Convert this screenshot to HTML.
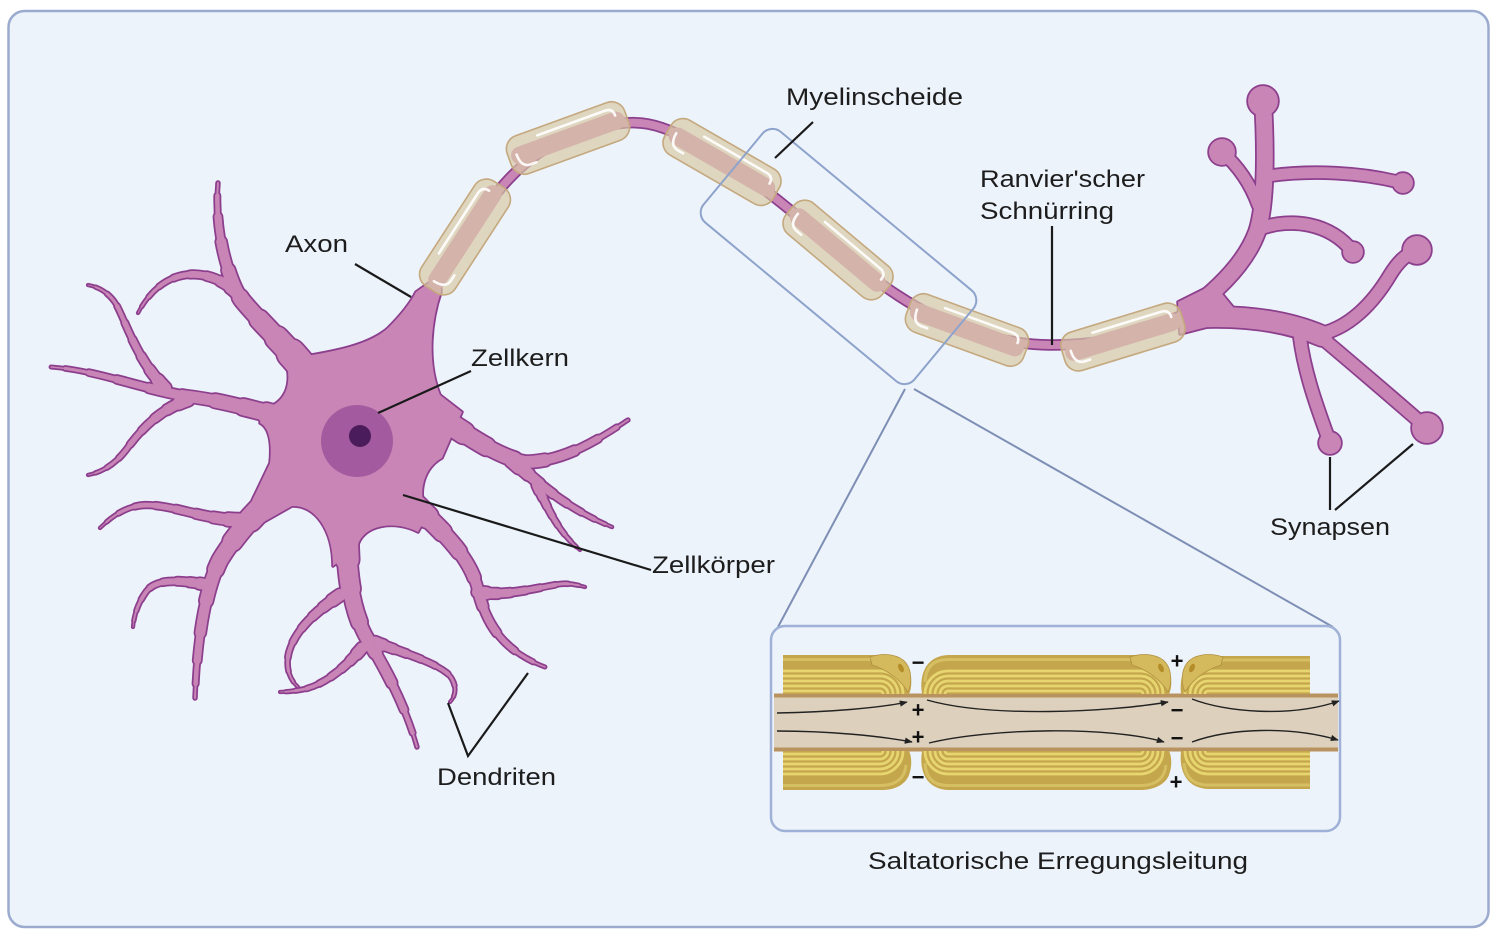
<!DOCTYPE html>
<html><head><meta charset="utf-8">
<style>
html,body{margin:0;padding:0;background:#fff;}
svg{display:block}
text{font-family:"Liberation Sans",Arial,sans-serif;font-size:24px;fill:#1d1d1d}
.br{fill:none;stroke-linecap:round;stroke-linejoin:round}
.s1{stroke-dasharray:8 1000;stroke-width:calc(var(--w)*1px + var(--o))}
.s2{stroke-dasharray:18 1000;stroke-width:calc(var(--w)*0.82px + var(--o))}
.s3{stroke-dasharray:30 1000;stroke-width:calc(var(--w)*0.68px + var(--o))}
.s4{stroke-dasharray:44 1000;stroke-width:calc(var(--w)*0.56px + var(--o))}
.s5{stroke-dasharray:58 1000;stroke-width:calc(var(--w)*0.46px + var(--o))}
.s6{stroke-dasharray:72 1000;stroke-width:calc(var(--w)*0.36px + var(--o))}
.s7{stroke-dasharray:84 1000;stroke-width:calc(var(--w)*0.26px + var(--o))}
.s8{stroke-dasharray:94 1000;stroke-width:calc(var(--w)*0.16px + var(--o))}
.s9{stroke-dasharray:100 1000;stroke-width:calc(var(--w)*0.07px + var(--o))}
.fx{stroke-width:calc(var(--w)*1px + var(--o))}
.bulb,.fl{fill:currentColor;stroke:currentColor;stroke-width:var(--o);stroke-linejoin:round}
.chg{font-weight:bold;font-size:22px;fill:#111;text-anchor:middle}
</style></head><body>
<svg width="1500" height="940" viewBox="0 0 1500 940" xmlns="http://www.w3.org/2000/svg">
<defs>
<marker id="ah" viewBox="0 0 10 8" refX="9" refY="4" markerWidth="8" markerHeight="6.4" markerUnits="userSpaceOnUse" orient="auto"><path d="M0,0 L10,4 L0,8 z" fill="#222"/></marker>
<path id="p1" class="br" pathLength="100" d="M302,366 C285,345 258,320 242,300 C228,280 214,230 218,183"/>
<path id="p2" class="br" pathLength="100" d="M238,294 C212,268 165,262 138,313"/>
<path id="p3" class="br" pathLength="100" d="M285,418 C255,410 220,400 185,396 C140,388 95,370 51,367"/>
<path id="p4" class="br" pathLength="100" d="M165,388 C137,360 126,322 116,304 C109,293 99,287 88,285"/>
<path id="p5" class="br" pathLength="100" d="M188,400 C158,410 139,432 126,450 C116,463 103,472 88,475"/>
<path id="p6" class="br" pathLength="100" d="M280,490 C258,510 235,535 220,560 C205,590 197,640 195,698"/>
<path id="p7" class="br" pathLength="100" d="M240,520 C205,520 175,505 145,505 C125,506 110,518 100,528"/>
<path id="p8" class="br" pathLength="100" d="M208,585 C180,580 156,578 146,592 C138,603 134,615 133,627"/>
<path id="p9" class="br" pathLength="100" d="M347,515 C345,565 350,610 368,640 C385,668 405,705 417,747"/>
<path id="p10" class="br" pathLength="100" d="M340,595 C318,610 296,628 289,652 C285,668 290,680 298,687"/>
<path id="p11" class="br" pathLength="100" d="M362,648 C345,668 325,684 305,689 C295,691 287,692 280,692"/>
<path id="p12" class="br" pathLength="100" d="M375,642 C400,652 430,660 447,673 C457,682 457,695 450,702"/>
<path id="p13" class="br" pathLength="100" d="M415,505 C440,530 470,555 478,590 C485,620 500,650 545,667"/>
<path id="p14" class="br" pathLength="100" d="M478,592 C505,597 535,588 560,584 C570,583 578,585 585,587"/>
<path id="p15" class="br" pathLength="100" d="M430,412 C455,425 490,455 525,462 C565,462 600,438 628,420"/>
<path id="p16" class="br" pathLength="100" d="M512,460 C535,480 565,508 612,527"/>
<path id="p17" class="br" pathLength="100" d="M537,485 C547,507 558,532 580,550"/>
<g id="ALL">
 <g style="--w:28"><use href="#p1" class="s1"/><use href="#p1" class="s2"/><use href="#p1" class="s3"/><use href="#p1" class="s4"/><use href="#p1" class="s5"/><use href="#p1" class="s6"/><use href="#p1" class="s7"/><use href="#p1" class="s8"/><use href="#p1" class="s9"/></g>
 <g style="--w:12"><use href="#p2" class="s1"/><use href="#p2" class="s2"/><use href="#p2" class="s3"/><use href="#p2" class="s4"/><use href="#p2" class="s5"/><use href="#p2" class="s6"/><use href="#p2" class="s7"/><use href="#p2" class="s8"/><use href="#p2" class="s9"/></g>
 <g style="--w:20"><use href="#p3" class="s1"/><use href="#p3" class="s2"/><use href="#p3" class="s3"/><use href="#p3" class="s4"/><use href="#p3" class="s5"/><use href="#p3" class="s6"/><use href="#p3" class="s7"/><use href="#p3" class="s8"/><use href="#p3" class="s9"/></g>
 <g style="--w:12"><use href="#p4" class="s1"/><use href="#p4" class="s2"/><use href="#p4" class="s3"/><use href="#p4" class="s4"/><use href="#p4" class="s5"/><use href="#p4" class="s6"/><use href="#p4" class="s7"/><use href="#p4" class="s8"/><use href="#p4" class="s9"/></g>
 <g style="--w:12"><use href="#p5" class="s1"/><use href="#p5" class="s2"/><use href="#p5" class="s3"/><use href="#p5" class="s4"/><use href="#p5" class="s5"/><use href="#p5" class="s6"/><use href="#p5" class="s7"/><use href="#p5" class="s8"/><use href="#p5" class="s9"/></g>
 <g style="--w:28"><use href="#p6" class="s1"/><use href="#p6" class="s2"/><use href="#p6" class="s3"/><use href="#p6" class="s4"/><use href="#p6" class="s5"/><use href="#p6" class="s6"/><use href="#p6" class="s7"/><use href="#p6" class="s8"/><use href="#p6" class="s9"/></g>
 <g style="--w:13"><use href="#p7" class="s1"/><use href="#p7" class="s2"/><use href="#p7" class="s3"/><use href="#p7" class="s4"/><use href="#p7" class="s5"/><use href="#p7" class="s6"/><use href="#p7" class="s7"/><use href="#p7" class="s8"/><use href="#p7" class="s9"/></g>
 <g style="--w:11"><use href="#p8" class="s1"/><use href="#p8" class="s2"/><use href="#p8" class="s3"/><use href="#p8" class="s4"/><use href="#p8" class="s5"/><use href="#p8" class="s6"/><use href="#p8" class="s7"/><use href="#p8" class="s8"/><use href="#p8" class="s9"/></g>
 <g style="--w:28"><use href="#p9" class="s1"/><use href="#p9" class="s2"/><use href="#p9" class="s3"/><use href="#p9" class="s4"/><use href="#p9" class="s5"/><use href="#p9" class="s6"/><use href="#p9" class="s7"/><use href="#p9" class="s8"/><use href="#p9" class="s9"/></g>
 <g style="--w:12"><use href="#p10" class="s1"/><use href="#p10" class="s2"/><use href="#p10" class="s3"/><use href="#p10" class="s4"/><use href="#p10" class="s5"/><use href="#p10" class="s6"/><use href="#p10" class="s7"/><use href="#p10" class="s8"/><use href="#p10" class="s9"/></g>
 <g style="--w:11"><use href="#p11" class="s1"/><use href="#p11" class="s2"/><use href="#p11" class="s3"/><use href="#p11" class="s4"/><use href="#p11" class="s5"/><use href="#p11" class="s6"/><use href="#p11" class="s7"/><use href="#p11" class="s8"/><use href="#p11" class="s9"/></g>
 <g style="--w:11"><use href="#p12" class="s1"/><use href="#p12" class="s2"/><use href="#p12" class="s3"/><use href="#p12" class="s4"/><use href="#p12" class="s5"/><use href="#p12" class="s6"/><use href="#p12" class="s7"/><use href="#p12" class="s8"/><use href="#p12" class="s9"/></g>
 <g style="--w:22"><use href="#p13" class="s1"/><use href="#p13" class="s2"/><use href="#p13" class="s3"/><use href="#p13" class="s4"/><use href="#p13" class="s5"/><use href="#p13" class="s6"/><use href="#p13" class="s7"/><use href="#p13" class="s8"/><use href="#p13" class="s9"/></g>
 <g style="--w:12"><use href="#p14" class="s1"/><use href="#p14" class="s2"/><use href="#p14" class="s3"/><use href="#p14" class="s4"/><use href="#p14" class="s5"/><use href="#p14" class="s6"/><use href="#p14" class="s7"/><use href="#p14" class="s8"/><use href="#p14" class="s9"/></g>
 <g style="--w:26"><use href="#p15" class="s1"/><use href="#p15" class="s2"/><use href="#p15" class="s3"/><use href="#p15" class="s4"/><use href="#p15" class="s5"/><use href="#p15" class="s6"/><use href="#p15" class="s7"/><use href="#p15" class="s8"/><use href="#p15" class="s9"/></g>
 <g style="--w:15"><use href="#p16" class="s1"/><use href="#p16" class="s2"/><use href="#p16" class="s3"/><use href="#p16" class="s4"/><use href="#p16" class="s5"/><use href="#p16" class="s6"/><use href="#p16" class="s7"/><use href="#p16" class="s8"/><use href="#p16" class="s9"/></g>
 <g style="--w:10"><use href="#p17" class="s1"/><use href="#p17" class="s2"/><use href="#p17" class="s3"/><use href="#p17" class="s4"/><use href="#p17" class="s5"/><use href="#p17" class="s6"/><use href="#p17" class="s7"/><use href="#p17" class="s8"/><use href="#p17" class="s9"/></g>
 <!-- axon -->
 <path class="br fx" style="--w:8" d="M428,300 C440,279 452,257 465,237 C491,197 523,154 568,138 C593,129 621,119 648,124 C675,129 699,146 722,160 C763,186 800,218 838,250 C876,282 919,314 967,330 C994,339 1022,345 1050,345 C1074,345 1100,343 1123,337 C1146,331 1167,320 1192,312"/>
 <!-- terminal -->
 <path class="fl" d="M1178,302 L1214,284 L1242,318 L1180,334 Z"/>
 <path class="br fx" style="--w:16" d="M1188,312 C1215,292 1245,265 1257,232 C1266,205 1266,150 1263,101"/>
 <path class="br fx" style="--w:11" d="M1258,205 C1250,183 1238,166 1222,152"/>
 <path class="br fx" style="--w:11" d="M1268,176 C1310,170 1360,172 1403,183"/>
 <path class="br fx" style="--w:12" d="M1262,228 C1290,218 1330,222 1353,252"/>
 <path class="br fx" style="--w:20" d="M1186,318 C1230,315 1280,318 1322,336"/>
 <path class="br fx" style="--w:12" d="M1315,335 C1350,330 1375,300 1390,275 C1398,262 1405,255 1417,250"/>
 <path class="br fx" style="--w:12" d="M1300,338 C1305,375 1318,410 1330,443"/>
 <path class="br fx" style="--w:12" d="M1322,338 C1360,370 1395,400 1427,428"/>
 <circle class="bulb" cx="1263" cy="101" r="15"/>
 <circle class="bulb" cx="1222" cy="152" r="13"/>
 <circle class="bulb" cx="1403" cy="183" r="10"/>
 <circle class="bulb" cx="1353" cy="252" r="10"/>
 <circle class="bulb" cx="1417" cy="250" r="14"/>
 <circle class="bulb" cx="1330" cy="443" r="11"/>
 <circle class="bulb" cx="1427" cy="428" r="15"/>
</g>
<g id="myel">
 <rect x="-60" y="-9" width="120" height="18" rx="9" fill="#c985b6"/>
 <rect x="-62.5" y="-20" width="125" height="40" rx="14" fill="#d9c8a4" fill-opacity="0.68" stroke="#c4a87e" stroke-width="1.6"/>
 <path d="M-28,-13 H44 Q52,-13 52,-5" stroke="#fff" stroke-width="2.6" fill="none" stroke-linecap="round" opacity="0.9"/>
 <path d="M-54,-2 Q-54,12 -44,12 H-38" stroke="#fff" stroke-width="2.6" fill="none" stroke-linecap="round" opacity="0.9"/>
</g>
<g id="blocks">
 <path d="M783,655 H882 C897,655 906,662 909,670 C912,678 912,688 909,694 H783 Z" fill="#c4a64d"/>
 <path d="M922,694 C919,676 925,656 948,655 H1140 C1156,655 1166,662 1169,670 C1172,678 1172,688 1169,694 Z" fill="#c4a64d"/>
 <path d="M1181,694 C1179,676 1185,657 1208,656 H1310 V694 Z" fill="#c4a64d"/>
 <path d="M783,659.5 H880 Q904,659.5 906,680" stroke="#d6bf62" stroke-width="3" fill="none"/>
 <path d="M925,682 Q926,659.5 948,659.5 H1140 Q1164,659.5 1166,680" stroke="#d6bf62" stroke-width="3" fill="none"/>
 <path d="M1184,682 Q1186,660 1208,660 H1310" stroke="#d6bf62" stroke-width="3" fill="none"/>
 <g stroke="#e7d570" stroke-width="2.8" fill="none">
  <path d="M783,671 H880 A23 23 0 0 1 903,694"/>
  <path d="M783,676 H880 A18 18 0 0 1 898,694"/>
  <path d="M783,681 H880 A13 13 0 0 1 893,694"/>
  <path d="M783,686 H880 A8 8 0 0 1 888,694"/>
  <path d="M783,691 H880 A3 3 0 0 1 883,694"/>
  <path d="M925,694 A23 23 0 0 1 948,671 H1140 A23 23 0 0 1 1163,694"/>
  <path d="M930,694 A18 18 0 0 1 948,676 H1140 A18 18 0 0 1 1158,694"/>
  <path d="M935,694 A13 13 0 0 1 948,681 H1140 A13 13 0 0 1 1153,694"/>
  <path d="M940,694 A8 8 0 0 1 948,686 H1140 A8 8 0 0 1 1148,694"/>
  <path d="M945,694 A3 3 0 0 1 948,691 H1140 A3 3 0 0 1 1143,694"/>
  <path d="M1185,694 A23 23 0 0 1 1208,671 H1310"/>
  <path d="M1190,694 A18 18 0 0 1 1208,676 H1310"/>
  <path d="M1195,694 A13 13 0 0 1 1208,681 H1310"/>
  <path d="M1200,694 A8 8 0 0 1 1208,686 H1310"/>
  <path d="M1205,694 A3 3 0 0 1 1208,691 H1310"/>
 </g>
</g>
<g id="bump">
 <path d="M870,657 C885,652 900,655 906,663 C912,671 912,684 908,692 C903,684 893,672 872,665 Z" fill="#d4b95d" stroke="#b09040" stroke-width="0.8"/>
 <ellipse cx="901" cy="668" rx="2.5" ry="4.5" fill="#b48c28" transform="rotate(-25 901 668)"/>
</g>
</defs>

<!-- frame -->
<rect x="8.5" y="11" width="1480" height="916" rx="16" fill="#edf3fb" stroke="#9babcf" stroke-width="2.5"/>

<!-- neuron -->
<path d="M300,357 C330,352 368,346 388,328 C402,314 411,302 416,292 L440,275 L441,292 C432,318 426,360 440,395 L462,412 L442,458 C420,470 418,500 428,514 L418,532 C395,520 362,524 357,548 L333,566 C333,530 315,505 292,506 L255,527 L250,505 L270,463 C272,445 270,428 260,423 L262,409 C282,405 290,390 288,372 Z" fill="#c985b6" stroke="#8c3f8d" stroke-width="3.5" stroke-linejoin="round"/>
<g style="--o:3.5px;color:#8c3f8d;stroke:#8c3f8d"><use href="#ALL"/></g>
<path d="M300,357 C330,352 368,346 388,328 C402,314 411,302 416,292 L440,275 L441,292 C432,318 426,360 440,395 L462,412 L442,458 C420,470 418,500 428,514 L418,532 C395,520 362,524 357,548 L333,566 C333,530 315,505 292,506 L255,527 L250,505 L270,463 C272,445 270,428 260,423 L262,409 C282,405 290,390 288,372 Z" fill="#c985b6"/>
<g style="--o:0px;color:#c985b6;stroke:#c985b6"><use href="#ALL"/></g>
<circle cx="357" cy="441" r="36" fill="#a45a9e"/>
<circle cx="360" cy="436" r="11" fill="#4b1c5c"/>

<!-- myelin -->
<use href="#myel" transform="translate(465,237) rotate(-57)"/>
<use href="#myel" transform="translate(568,138) rotate(-20)"/>
<use href="#myel" transform="translate(722,162) rotate(30)"/>
<use href="#myel" transform="translate(838,250) rotate(40)"/>
<use href="#myel" transform="translate(967,330) rotate(20)"/>
<use href="#myel" transform="translate(1123,337) rotate(-17)"/>

<!-- callout -->
<rect x="-137" y="-59" width="274" height="118" rx="13" transform="translate(838.5,256.5) rotate(39.7)" fill="none" stroke="#8ea3cc" stroke-width="2"/>
<line x1="905" y1="389" x2="778" y2="627" stroke="#7d8fb5" stroke-width="2"/>
<line x1="914" y1="389" x2="1333" y2="627" stroke="#7d8fb5" stroke-width="2"/>

<!-- inset -->
<rect x="771" y="626" width="569" height="205" rx="14" fill="#edf3fb" stroke="#9fb1d6" stroke-width="2.5"/>
<rect x="774" y="693.5" width="564" height="58" fill="#b8925f"/>
<rect x="774" y="697.5" width="564" height="50" fill="#ddd1bd"/>
<use href="#blocks"/>
<use href="#blocks" transform="matrix(1 0 0 -1 0 1445)"/>
<use href="#bump"/>
<use href="#bump" transform="translate(260,0)"/>
<use href="#bump" transform="translate(2093,0) scale(-1,1)"/>
<g stroke="#222" stroke-width="1.4" fill="none" marker-end="url(#ah)">
 <path d="M777,713 C830,712 880,708 907,702"/>
 <path d="M927,700 C990,718 1110,712 1168,702"/>
 <path d="M1192,699 C1225,712 1290,718 1339,701"/>
 <path d="M777,731 C830,731 880,736 912,742"/>
 <path d="M929,743 C990,728 1110,726 1164,742"/>
 <path d="M1192,742 C1230,728 1290,726 1338,740"/>
</g>
<text class="chg" x="918" y="670">−</text>
<text class="chg" x="918" y="717.5">+</text>
<text class="chg" x="918" y="744.5">+</text>
<text class="chg" x="918" y="784.5">−</text>
<text class="chg" x="1177" y="668.5">+</text>
<text class="chg" x="1177" y="717.5">−</text>
<text class="chg" x="1177" y="745.5">−</text>
<text class="chg" x="1176" y="789.5">+</text>

<!-- leader lines -->
<g stroke="#1a1a1a" stroke-width="2.2" fill="none">
 <line x1="355" y1="264" x2="411" y2="297"/>
 <line x1="471" y1="371" x2="378" y2="413"/>
 <line x1="403" y1="495" x2="651" y2="570"/>
 <polyline points="448,703 468,756 528,673"/>
 <line x1="813" y1="122" x2="775" y2="158"/>
 <line x1="1052" y1="226" x2="1052" y2="345"/>
 <line x1="1330" y1="457" x2="1330" y2="510"/>
 <line x1="1335" y1="510" x2="1413" y2="444"/>
</g>

<!-- labels -->
<text x="285" y="252" textLength="63" lengthAdjust="spacingAndGlyphs">Axon</text>
<text x="471" y="366" textLength="98" lengthAdjust="spacingAndGlyphs">Zellkern</text>
<text x="652" y="573" textLength="123" lengthAdjust="spacingAndGlyphs">Zellkörper</text>
<text x="437" y="785" textLength="119" lengthAdjust="spacingAndGlyphs">Dendriten</text>
<text x="786" y="105" textLength="177" lengthAdjust="spacingAndGlyphs">Myelinscheide</text>
<text x="980" y="187" textLength="165" lengthAdjust="spacingAndGlyphs">Ranvier'scher</text>
<text x="980" y="219" textLength="134" lengthAdjust="spacingAndGlyphs">Schnürring</text>
<text x="1270" y="535" textLength="120" lengthAdjust="spacingAndGlyphs">Synapsen</text>
<text x="868" y="869" textLength="380" lengthAdjust="spacingAndGlyphs">Saltatorische Erregungsleitung</text>
</svg>
</body></html>
